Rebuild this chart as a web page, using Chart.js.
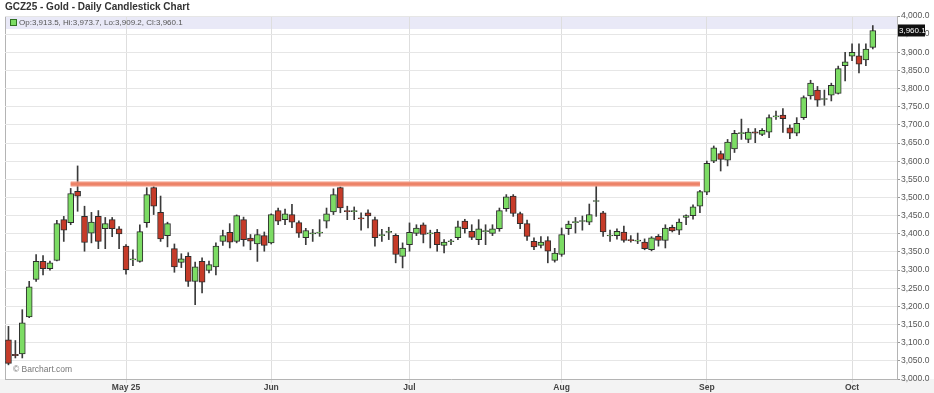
<!DOCTYPE html>
<html>
<head>
<meta charset="utf-8">
<title>GCZ25 - Gold - Daily Candlestick Chart</title>
<script src="https://cdn.jsdelivr.net/npm/chart.js@4.4.1/dist/chart.umd.min.js"></script>
<style>
  html, body { margin: 0; padding: 0; background: #fff; }
  #wrap { position: relative; width: 934px; height: 393px; font-family: "Liberation Sans", Arial, sans-serif; }
  #title { position: absolute; left: 5px; top: 1px; font-size: 10px; font-weight: bold; color: #333; white-space: nowrap; }
  #legend { position: absolute; left: 10px; top: 18px; font-size: 8px; color: #555; white-space: nowrap; }
  #legend i { display: inline-block; width: 5px; height: 5px; background: #7cdc64; border: 1px solid #2f6f22; margin-right: 2px; vertical-align: -1px; }
  #credit { position: absolute; left: 13px; top: 364px; font-size: 8.5px; color: #777; white-space: nowrap; }
</style>
</head>
<body>
<div id="wrap">
  <canvas id="goldChart" width="934" height="393"></canvas>
  <div id="title">GCZ25 - Gold - Daily Candlestick Chart</div>
  <div id="legend"><i></i><span id="ohlc"></span></div>
  <div id="credit">© Barchart.com</div>
</div>
<script>
// trading days, plus three empty slots on the right
const dates = [
  '2025-04-07','2025-04-08','2025-04-09','2025-04-10','2025-04-11','2025-04-14','2025-04-15','2025-04-16','2025-04-17','2025-04-21',
  '2025-04-22','2025-04-23','2025-04-24','2025-04-25','2025-04-28','2025-04-29','2025-04-30',
  '2025-05-01','2025-05-02','2025-05-05','2025-05-06','2025-05-07','2025-05-08','2025-05-09','2025-05-12','2025-05-13','2025-05-14',
  '2025-05-15','2025-05-16','2025-05-19','2025-05-20','2025-05-21','2025-05-22','2025-05-23','2025-05-27','2025-05-28','2025-05-29','2025-05-30',
  '2025-06-02','2025-06-03','2025-06-04','2025-06-05','2025-06-06','2025-06-09','2025-06-10','2025-06-11','2025-06-12','2025-06-13',
  '2025-06-16','2025-06-17','2025-06-18','2025-06-20','2025-06-23','2025-06-24','2025-06-25','2025-06-26','2025-06-27','2025-06-30',
  '2025-07-01','2025-07-02','2025-07-03','2025-07-07','2025-07-08','2025-07-09','2025-07-10','2025-07-11','2025-07-14','2025-07-15',
  '2025-07-16','2025-07-17','2025-07-18','2025-07-21','2025-07-22','2025-07-23','2025-07-24','2025-07-25','2025-07-28','2025-07-29','2025-07-30','2025-07-31',
  '2025-08-01','2025-08-04','2025-08-05','2025-08-06','2025-08-07','2025-08-08','2025-08-11','2025-08-12','2025-08-13','2025-08-14',
  '2025-08-15','2025-08-18','2025-08-19','2025-08-20','2025-08-21','2025-08-22','2025-08-25','2025-08-26','2025-08-27','2025-08-28','2025-08-29',
  '2025-09-02','2025-09-03','2025-09-04','2025-09-05','2025-09-08','2025-09-09','2025-09-10','2025-09-11','2025-09-12','2025-09-15',
  '2025-09-16','2025-09-17','2025-09-18','2025-09-19','2025-09-22','2025-09-23','2025-09-24','2025-09-25','2025-09-26','2025-09-29','2025-09-30',
  '2025-10-01','2025-10-02','2025-10-03','2025-10-06',
  '2025-10-07','2025-10-08','2025-10-09'
];

const opens = [
  3108,3068,3069,3171,3274,3324,3304,3327,3439,3431,
  3517,3448,3402,3448,3414,3439,3414,3366,3328,3324,
  3431,3527,3459,3395,3359,3321,3338,3269,3324,3299,
  3309,3379,3404,3379,3439,3388,3372,3395,3375,3464,
  3439,3453,3431,3389,3400,3402,3435,3460,3527,3463,
  3461,3444,3458,3439,3395,3404,3396,3338,3370,3401,
  3425,3400,3404,3368,3378,3389,3435,3407,3384,3406,
  3401,3414,3469,3504,3456,3428,3379,3368,3381,3327,
  3343,3414,3431,3434,3432,3489,3458,3394,3395,3405,
  3383,3380,3377,3356,3393,3382,3418,3410,3445,3450,
  3476,3515,3600,3621,3603,3634,3676,3660,3681,3674,
  3680,3722,3727,3692,3677,3720,3780,3796,3770,3782,
  3787,3863,3889,3890,3879,3913.5
];
const highs = [
  3145,3106,3191,3269,3343,3340,3325,3437,3448,3525,
  3587,3476,3459,3464,3445,3445,3420,3370,3356,3425,
  3527,3530,3504,3432,3372,3345,3348,3322,3334,3325,
  3375,3410,3428,3452,3446,3398,3412,3405,3455,3471,
  3468,3481,3436,3415,3412,3439,3471,3524,3529,3476,
  3474,3458,3466,3446,3412,3418,3400,3375,3430,3425,
  3430,3410,3412,3384,3385,3435,3440,3425,3439,3425,
  3425,3471,3508,3508,3460,3438,3389,3392,3392,3360,
  3416,3435,3445,3449,3482,3531,3462,3410,3414,3421,
  3395,3402,3386,3392,3398,3425,3424,3441,3452,3480,
  3520,3600,3642,3628,3660,3685,3716,3690,3690,3690,
  3728,3738,3745,3700,3720,3780,3823,3806,3796,3815,
  3862,3900,3923,3923,3923,3973.7
];
const lows = [
  3039,3058,3058,3169,3269,3287,3300,3325,3379,3425,
  3462,3352,3375,3359,3359,3392,3359,3289,3312,3322,
  3418,3453,3379,3364,3294,3307,3255,3205,3237,3292,
  3287,3368,3361,3375,3366,3356,3324,3352,3372,3425,
  3425,3417,3390,3370,3379,3393,3416,3453,3458,3439,
  3439,3410,3416,3366,3379,3384,3320,3306,3352,3395,
  3375,3361,3352,3347,3370,3384,3402,3384,3370,3370,
  3395,3407,3462,3448,3414,3382,3356,3361,3320,3322,
  3338,3398,3402,3410,3425,3448,3393,3379,3385,3377,
  3377,3373,3356,3353,3366,3361,3405,3398,3425,3440,
  3458,3508,3596,3573,3587,3624,3660,3651,3651,3670,
  3665,3715,3679,3662,3670,3715,3771,3751,3754,3766,
  3785,3821,3877,3843,3863,3909.2
];
const closes = [
  3043,3064,3155,3254,3324,3304,3320,3428,3410,3511,
  3504,3376,3432,3379,3428,3414,3400,3301,3330,3406,
  3508,3476,3386,3428,3309,3331,3269,3309,3267,3315,
  3366,3395,3377,3450,3384,3380,3398,3368,3453,3435,
  3455,3432,3402,3409,3403,3404,3455,3508,3471,3461,
  3462,3441,3449,3389,3397,3406,3343,3361,3404,3416,
  3398,3402,3370,3377,3380,3419,3414,3390,3414,3408,
  3414,3464,3502,3456,3428,3393,3364,3377,3352,3347,
  3398,3427,3433,3436,3453,3491,3405,3396,3407,3382,
  3381,3381,3359,3389,3382,3416,3408,3432,3450,3474,
  3516,3594,3637,3605,3653,3677,3679,3680,3677,3685,
  3720,3724,3717,3677,3704,3775,3815,3768,3772,3809,
  3855,3874,3900,3867,3909,3960.1
];

const monthStarts = ['2025-05-01','2025-06-02','2025-07-01','2025-08-01','2025-09-02','2025-10-01'];
const monthLabels = ['May 25','Jun','Jul','Aug','Sep','Oct'];

// resistance line drawn on the chart
const resistanceLevel = 3537;
const resistanceFrom = '2025-04-21';
const resistanceTo = '2025-08-29';

const fmt = v => v.toLocaleString('en-US', { minimumFractionDigits: 1, maximumFractionDigits: 1 });
const last = opens.length - 1;
document.getElementById('ohlc').textContent =
  'Op:' + fmt(opens[last]) + ', Hi:' + fmt(highs[last]) + ', Lo:' + fmt(lows[last]) + ', Cl:' + fmt(closes[last]);

const bodies = opens.map((o, i) => [o, closes[i]]);
const wicks = lows.map((l, i) => [l, highs[i]]);
const bodyColors = opens.map((o, i) => closes[i] >= o ? '#7cdc64' : '#c63b29');

const isMonthStart = i => monthStarts.includes(dates[i]);

// lavender legend band, frame and grey strip under the axis
const framePlugin = {
  id: 'frame',
  beforeDraw(chart) {
    const { ctx, chartArea: a } = chart;
    ctx.save();
    ctx.fillStyle = '#f3f3f3';
    ctx.fillRect(0, a.bottom, chart.width, chart.height - a.bottom);
    ctx.fillStyle = '#e9e9f7';
    ctx.fillRect(a.left, a.top, a.right - a.left, 13);
    ctx.strokeStyle = '#b4b4b4';
    ctx.lineWidth = 1;
    ctx.strokeRect(a.left + 0.5, a.top + 0.5, a.right - a.left, a.bottom - a.top);
    ctx.restore();
  }
};

// black box with the last close on the price axis
const lastPricePlugin = {
  id: 'lastPrice',
  afterDraw(chart) {
    const { ctx, chartArea: a } = chart;
    const y = chart.scales.y.getPixelForValue(closes[last]);
    ctx.save();
    ctx.fillStyle = '#111';
    ctx.fillRect(a.right + 1, y - 6, 27, 12);
    ctx.fillStyle = '#fff';
    ctx.font = '8px "Liberation Sans", Arial, sans-serif';
    ctx.textBaseline = 'middle';
    ctx.fillText(fmt(closes[last]), a.right + 2, y + 0.5);
    ctx.restore();
  }
};

Chart.defaults.font.family = '"Liberation Sans", Arial, sans-serif';

const ctx = document.getElementById('goldChart').getContext('2d');
const goldChart = new Chart(ctx, {
  type: 'bar',
  data: {
    labels: dates,
    datasets: [
      {
        type: 'line',
        label: 'glow',
        data: [{ x: resistanceFrom, y: resistanceLevel }, { x: resistanceTo, y: resistanceLevel }],
        borderColor: 'rgba(245,160,140,0.55)',
        borderWidth: 6,
        pointRadius: 0,
        order: 0
      },
      {
        type: 'line',
        label: 'resistance',
        data: [{ x: resistanceFrom, y: resistanceLevel }, { x: resistanceTo, y: resistanceLevel }],
        borderColor: '#e2603c',
        borderWidth: 3.5,
        pointRadius: 0,
        order: 0
      },
      {
        label: 'body',
        data: bodies,
        backgroundColor: bodyColors,
        borderColor: '#2d2d2d',
        borderWidth: 1,
        borderSkipped: false,
        barThickness: 6,
        minBarLength: 1,
        grouped: false,
        order: 1
      },
      {
        label: 'wick',
        data: wicks,
        backgroundColor: '#3a3a3a',
        barThickness: 1,
        grouped: false,
        order: 2
      }
    ]
  },
  options: {
    responsive: false,
    devicePixelRatio: 1,
    animation: false,
    layout: { padding: { left: 5, top: 16, right: 0, bottom: 0 } },
    plugins: {
      legend: { display: false },
      tooltip: { enabled: false }
    },
    scales: {
      x: {
        type: 'category',
        offset: true,
        grid: {
          offset: false,
          color: c => (c.tick && isMonthStart(c.tick.value)) ? '#dedede' : 'rgba(0,0,0,0)',
          tickLength: 4
        },
        border: { color: '#b4b4b4' },
        ticks: {
          autoSkip: false,
          maxRotation: 0,
          padding: 0,
          color: '#444',
          font: { size: 8.5, weight: 'bold' },
          callback: function (value) {
            const k = monthStarts.indexOf(dates[value]);
            return k >= 0 ? monthLabels[k] : '';
          }
        },
        afterFit: s => { s.height = 14; }
      },
      y: {
        position: 'right',
        min: 3000,
        max: 4000,
        grid: { color: '#e6e6e6', tickColor: '#999', tickLength: 3 },
        border: { color: '#b4b4b4' },
        ticks: {
          stepSize: 50,
          padding: 1,
          color: '#555',
          font: { size: 8.5 },
          callback: v => fmt(v)
        },
        afterFit: s => { s.width = 37; }
      }
    }
  },
  plugins: [framePlugin, lastPricePlugin]
});
</script>
</body>
</html>
